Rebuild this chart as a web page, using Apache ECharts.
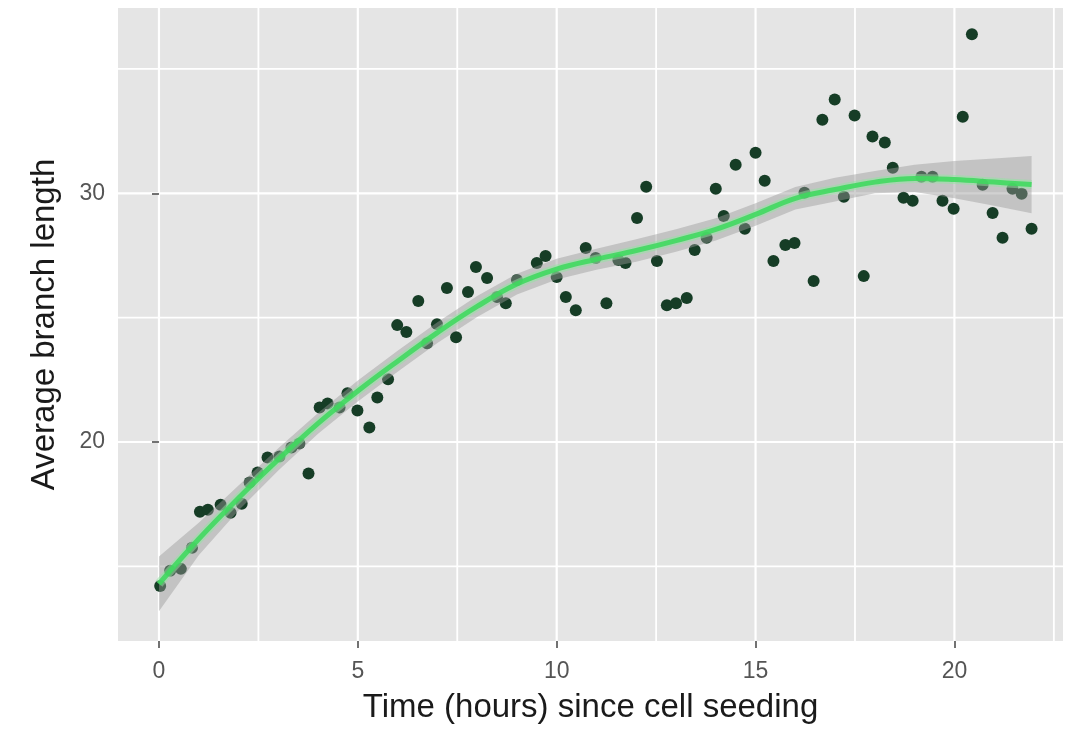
<!DOCTYPE html>
<html>
<head>
<meta charset="utf-8">
<title>Average branch length over time</title>
<script src="https://cdn.jsdelivr.net/npm/echarts@6/dist/echarts.min.js"></script>
<style>
  html, body { margin: 0; padding: 0; background: #ffffff; }
  #chart { width: 1065px; height: 729px; }
</style>
</head>
<body>
<div id="chart"></div>
<script>
// Observed average branch length at each imaging time (hours since seeding)
const timeHours = [
  0.03, 0.28, 0.55, 0.83, 1.03, 1.23, 1.55, 1.80, 2.08, 2.28, 2.48, 2.73, 3.03, 3.33, 3.53, 3.76,
  4.04, 4.24, 4.54, 4.74, 4.99, 5.29, 5.49, 5.76, 5.99, 6.22, 6.52, 6.74, 6.99, 7.24, 7.47, 7.77,
  7.97, 8.25, 8.50, 8.72, 9.00, 9.50, 9.72, 10.00, 10.23, 10.48, 10.73, 10.98, 11.25, 11.55, 11.73,
  12.02, 12.25, 12.52, 12.77, 13.00, 13.27, 13.47, 13.77, 14.00, 14.20, 14.50, 14.73, 15.00, 15.23,
  15.45, 15.75, 15.98, 16.23, 16.46, 16.68, 16.99, 17.22, 17.49, 17.72, 17.94, 18.25, 18.45, 18.72,
  18.95, 19.17, 19.45, 19.70, 19.98, 20.21, 20.44, 20.71, 20.96, 21.21, 21.46, 21.69, 21.94
];
const branchLength = [
  14.21, 14.82, 14.90, 15.75, 17.20, 17.28, 17.48, 17.16, 17.52, 18.37, 18.77, 19.38, 19.42, 19.78, 19.94, 18.73,
  21.39, 21.55, 21.39, 21.96, 21.27, 20.58, 21.79, 22.52, 24.70, 24.42, 25.67, 23.97, 24.74, 26.19, 24.21, 26.03,
  27.04, 26.59, 25.83, 25.58, 26.51, 27.20, 27.48, 26.63, 25.83, 25.30, 27.80, 27.40, 25.58, 27.32, 27.20,
  29.01, 30.26, 27.28, 25.50, 25.58, 25.79, 27.72, 28.21, 30.18, 29.09, 31.15, 28.57, 31.63, 30.50,
  27.28, 27.92, 28.00, 30.02, 26.47, 32.96, 33.77, 29.86, 33.13, 26.67, 32.28, 32.04, 31.03, 29.82,
  29.70, 30.67, 30.67, 29.70, 29.38, 33.08, 36.39, 30.34, 29.21, 28.21, 30.18, 29.98, 28.57
];

// Smoothed trend and half-width of its confidence band
const fitTime = [0, 1, 2, 3, 4, 5, 6, 7, 8, 9, 10, 11, 12, 13, 14, 15, 16, 17, 18, 19, 20, 21, 21.94];
const fitValue = [14.3, 16.1, 17.75, 19.3, 20.75, 22.05, 23.25, 24.4, 25.45, 26.35, 26.95, 27.35, 27.7,
  28.1, 28.55, 29.15, 29.8, 30.15, 30.45, 30.6, 30.55, 30.45, 30.35];
const fitHalfWidth = [1.1, 0.65, 0.5, 0.45, 0.42, 0.42, 0.42, 0.42, 0.42, 0.42, 0.42, 0.42, 0.45,
  0.45, 0.45, 0.45, 0.45, 0.48, 0.45, 0.55, 0.75, 0.95, 1.15];

// Axis ticks and grid lines
const xTicks = [0, 5, 10, 15, 20];
const xMinorLines = [2.5, 7.5, 12.5, 17.5, 22.5];
const yTicks = [20, 30];
const yMinorLines = [15, 25, 35];

const X_MIN = -1.03, X_MAX = 22.73;
const Y_MIN = 12.0, Y_MAX = 37.45;

const chart = echarts.init(document.getElementById('chart'), null, { renderer: 'canvas' });

const fontFamily = "'Liberation Sans', Arial, sans-serif";

// Grid lines drawn as one custom item per line (x = vertical, y = horizontal)
const gridLineData = []
  .concat(xTicks.map(v => ['x', v, 2.2]))
  .concat(xMinorLines.map(v => ['x', v, 1.8]))
  .concat(yTicks.map(v => ['y', v, 2.2]))
  .concat(yMinorLines.map(v => ['y', v, 1.8]));

const option = {
  backgroundColor: '#ffffff',
  animation: false,
  grid: {
    left: 118, right: 2, top: 8, bottom: 87,
    show: true, backgroundColor: '#e5e5e5', borderWidth: 0
  },
  xAxis: {
    type: 'value', min: X_MIN, max: X_MAX,
    name: 'Time (hours) since cell seeding',
    nameLocation: 'middle', nameGap: 50,
    nameTextStyle: { fontFamily, fontSize: 33, color: '#1a1a1a' },
    axisLine: { show: false },
    splitLine: { show: false },
    axisTick: { show: true, customValues: xTicks, length: 7, lineStyle: { color: '#444', width: 1.5 } },
    axisLabel: { customValues: xTicks, margin: 19, fontFamily, fontSize: 23, color: '#555555' }
  },
  yAxis: {
    type: 'value', min: Y_MIN, max: Y_MAX,
    name: 'Average branch length',
    nameLocation: 'middle', nameGap: 57,
    nameTextStyle: { fontFamily, fontSize: 33, color: '#1a1a1a' },
    axisLine: { show: false },
    splitLine: { show: false },
    axisTick: { show: true, customValues: yTicks, length: 7, lineStyle: { color: '#444', width: 1.5 } },
    axisLabel: { customValues: yTicks, margin: 13, fontFamily, fontSize: 23, color: '#555555' }
  },
  series: [
    {
      name: 'grid lines',
      type: 'custom',
      silent: true,
      z: 0,
      data: gridLineData,
      clip: true,
      renderItem: function (params, api) {
        const cs = params.coordSys;
        const dir = api.value(0);
        const v = api.value(1);
        const w = api.value(2);
        let shape;
        if (dir === 'x') {
          const px = api.coord([v, Y_MIN])[0];
          shape = { x1: px, y1: cs.y, x2: px, y2: cs.y + cs.height };
        } else {
          const py = api.coord([X_MIN, v])[1];
          shape = { x1: cs.x, y1: py, x2: cs.x + cs.width, y2: py };
        }
        return { type: 'line', shape: shape, style: { stroke: '#ffffff', lineWidth: w } };
      },
      encode: { x: 1, y: 1 }
    },
    {
      name: 'observed',
      type: 'scatter',
      z: 2,
      symbolSize: 12,
      itemStyle: { color: '#163d26', opacity: 1 },
      data: timeHours.map((t, i) => [t, branchLength[i]])
    },
    {
      name: 'confidence band',
      type: 'custom',
      silent: true,
      z: 3,
      data: fitTime.map((t, i) => [t, fitValue[i]]),
      renderItem: function (params, api) {
        if (params.dataIndex !== 0) return null;
        const pts = [];
        for (let i = 0; i < fitTime.length; i++) {
          pts.push(api.coord([fitTime[i], fitValue[i] + fitHalfWidth[i]]));
        }
        for (let i = fitTime.length - 1; i >= 0; i--) {
          pts.push(api.coord([fitTime[i], fitValue[i] - fitHalfWidth[i]]));
        }
        return {
          type: 'polygon',
          shape: { points: pts },
          style: { fill: '#9a9a9a', opacity: 0.45 }
        };
      }
    },
    {
      name: 'trend halo',
      type: 'line',
      z: 4,
      smooth: 0.4,
      showSymbol: false,
      silent: true,
      lineStyle: { color: '#8fe8a0', width: 9, opacity: 0.5 },
      data: fitTime.map((t, i) => [t, fitValue[i]])
    },
    {
      name: 'trend',
      type: 'line',
      z: 5,
      smooth: 0.4,
      showSymbol: false,
      silent: true,
      lineStyle: { color: '#3ed95d', width: 5, opacity: 0.88 },
      data: fitTime.map((t, i) => [t, fitValue[i]])
    }
  ]
};

chart.setOption(option);
</script>
</body>
</html>
